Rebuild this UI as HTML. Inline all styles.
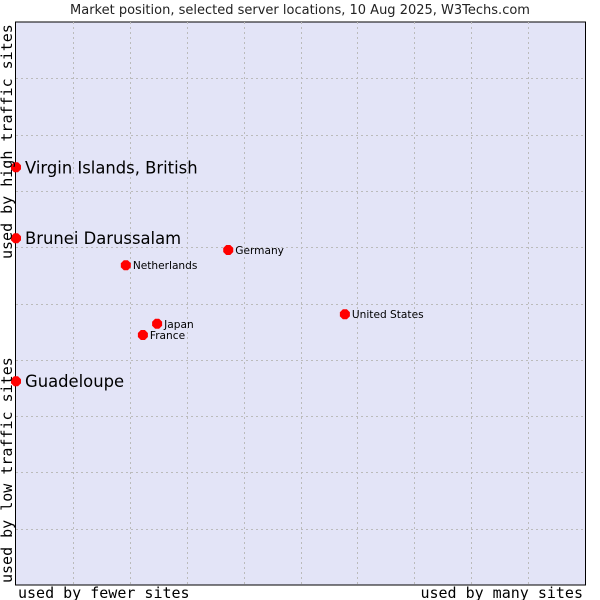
<!DOCTYPE html>
<html><head><meta charset="utf-8"><style>
html,body{margin:0;padding:0;background:#fff;width:600px;height:600px;overflow:hidden}
svg{display:block}
</style></head><body>
<svg width="600" height="600" xmlns="http://www.w3.org/2000/svg">
<text x="300" y="14" text-anchor="middle" font-family="DejaVu Sans, sans-serif" font-size="13" fill="#222">Market position, selected server locations, 10 Aug 2025, W3Techs.com</text>
<rect x="15.5" y="22" width="570" height="563" fill="#e3e4f7" stroke="#000" stroke-width="1"/>
<g id="grid"></g>
<g id="pts"></g>
<text x="18" y="598" font-family="DejaVu Sans Mono, monospace" font-size="15" fill="#000">used by fewer sites</text>
<text x="583" y="598" text-anchor="end" font-family="DejaVu Sans Mono, monospace" font-size="15" fill="#000">used by many sites</text>
<text transform="translate(12,583) rotate(-90)" font-family="DejaVu Sans Mono, monospace" font-size="15" fill="#000">used by low traffic sites</text>
<text transform="translate(12,259) rotate(-90)" font-family="DejaVu Sans Mono, monospace" font-size="15" fill="#000">used by high traffic sites</text>
</svg>
<script>
const names = ["Virgin Islands, British","Brunei Darussalam","Guadeloupe","Germany","Netherlands","United States","Japan","France"];
const xVals = [0,0,0,3.73,1.93,5.78,2.48,2.23];
const yVals = [7.42,6.16,3.62,5.95,5.68,4.81,4.64,4.44];
const bigLabel = [true,true,true,false,false,false,false,false];
const NS="http://www.w3.org/2000/svg";
const X0=16,X1=585,Y0=585,Y1=22;
function sx(v){return X0+v/10*(X1-X0);}
function sy(v){return Y0-v/10*(Y0-Y1);}
const grid=document.getElementById('grid');
for(let i=1;i<10;i++){
  const l=document.createElementNS(NS,'line');
  l.setAttribute('x1',Math.round(sx(i))+0.5);l.setAttribute('x2',Math.round(sx(i))+0.5);
  l.setAttribute('y1',Y1);l.setAttribute('y2',Y0);
  l.setAttribute('stroke','#bbb');l.setAttribute('stroke-dasharray','2,3');
  
  
  grid.appendChild(l);
  const h=document.createElementNS(NS,'line');
  h.setAttribute('y1',Math.round(sy(i))+0.5);h.setAttribute('y2',Math.round(sy(i))+0.5);
  h.setAttribute('x1',X0);h.setAttribute('x2',X1);
  h.setAttribute('stroke','#bbb');h.setAttribute('stroke-dasharray','2,3');
  
  
  grid.appendChild(h);
}
const pts=document.getElementById('pts');
names.forEach((n,i)=>{
  const x=sx(xVals[i]),y=sy(yVals[i]);
  const d=document.createElementNS(NS,'path');
  d.setAttribute('d',`M${x-5},${y-2} L${x-2},${y-5} L${x+2},${y-5} L${x+5},${y-2} L${x+5},${y+2} L${x+2},${y+5} L${x-2},${y+5} L${x-5},${y+2} Z`);
  d.setAttribute('transform',`translate(0,0) scale(1)`);
  d.setAttribute('fill','#f00');
  
  
  pts.appendChild(d);
  const t=document.createElementNS(NS,'text');
  t.setAttribute('x',x+(bigLabel[i]?9:7));
  t.setAttribute('y',y+(bigLabel[i]?6:4));
  t.setAttribute('font-family','DejaVu Sans, sans-serif');
  t.setAttribute('font-size',bigLabel[i]?16.4:10.6);
  t.setAttribute('fill','#000');
  t.textContent=n;
  
  
  pts.appendChild(t);
});
</script>
</body></html>
